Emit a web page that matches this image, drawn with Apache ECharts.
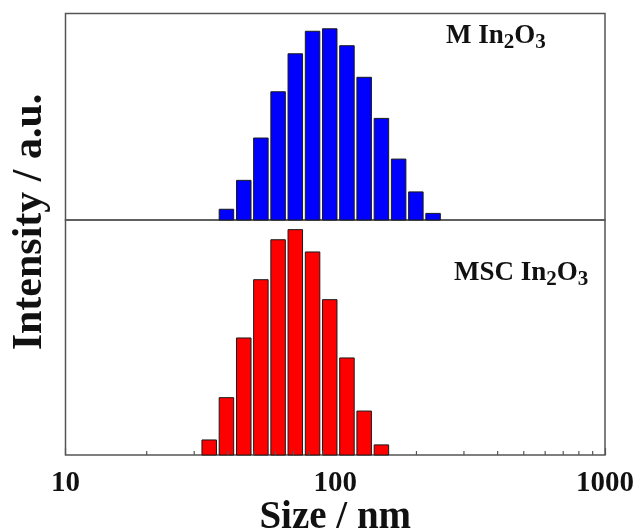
<!DOCTYPE html>
<html>
<head>
<meta charset="utf-8">
<script src="https://cdn.jsdelivr.net/npm/echarts@6/dist/echarts.min.js"></script>
<style>
  html, body { margin: 0; padding: 0; background: #fff; }
  #chart { width: 638px; height: 531px; }
</style>
</head>
<body>
<div id="chart"></div>
<script>
// bin centres (nm)
const sizesM = [39.5, 45.8, 53.0, 61.4, 71.1, 82.4, 95.4, 110.5, 128.0, 148.3, 171.8, 199.0, 230.5];
const intensityM = [5.2, 19.2, 39.7, 62.1, 80.5, 91.4, 92.6, 84.4, 69.1, 49.2, 29.5, 13.6, 3.2];

const sizesMSC = [34.1, 39.5, 45.8, 53.0, 61.4, 71.1, 82.4, 95.4, 110.5, 128.0, 148.3];
const intensityMSC = [6.4, 24.4, 49.8, 74.6, 91.6, 95.9, 86.4, 66.1, 41.3, 18.7, 4.3];

const xTickLabels = [10, 100, 1000];
const minorTicks = [20, 30, 40, 50, 60, 70, 80, 90, 200, 300, 400, 500, 600, 700, 800, 900];

const FONT = '"Liberation Serif", "Times New Roman", serif';
const FRAME = '#555';

// 每根柱子：中心在对数轴上，宽度固定像素
function barRenderer(color) {
  return function (params, api) {
    const top = api.coord([api.value(0), api.value(1)]);
    const base = api.coord([api.value(0), 0]);
    const w = 14.5;
    return {
      type: 'rect',
      shape: { x: top[0] - w / 2, y: top[1], width: w, height: base[1] - top[1] },
      style: { fill: color, stroke: '#1a1a1a', lineWidth: 1 }
    };
  };
}

const chart = echarts.init(document.getElementById('chart'), null, { renderer: 'canvas' });

chart.setOption({
  animation: false,
  grid: [
    { left: 65.5, right: 33, top: 13.5, height: 206.5, outerBoundsMode: 'none', show: true, borderColor: FRAME, borderWidth: 1.5, backgroundColor: 'transparent' },
    { left: 65.5, right: 33, top: 220, height: 235, outerBoundsMode: 'none', show: true, borderColor: FRAME, borderWidth: 1.5, backgroundColor: 'transparent' }
  ],
  xAxis: [
    { gridIndex: 0, type: 'log', logBase: 10, min: 10, max: 1000, show: false },
    {
      gridIndex: 1, type: 'log', logBase: 10, min: 10, max: 1000,
      axisLine: { show: false },
      axisTick: { show: true, inside: true, length: 7, lineStyle: { color: FRAME, width: 1.2 } },
      splitLine: { show: false },
      axisLabel: {
        margin: 14,
        color: '#111',
        fontFamily: FONT, fontWeight: 'bold', fontSize: 29,
        formatter: v => (xTickLabels.includes(Math.round(v)) ? String(Math.round(v)) : '')
      },
      name: 'Size / nm',
      nameLocation: 'middle',
      nameGap: 40,
      nameTextStyle: { color: '#111', fontFamily: FONT, fontWeight: 'bold', fontSize: 39 }
    }
  ],
  yAxis: [
    { gridIndex: 0, type: 'value', min: 0, max: 100, show: false },
    { gridIndex: 1, type: 'value', min: 0, max: 100, show: false }
  ],
  series: [
    {
      type: 'custom', xAxisIndex: 0, yAxisIndex: 0,
      renderItem: barRenderer('#0000ff'),
      data: sizesM.map((s, i) => [s, intensityM[i]])
    },
    {
      type: 'custom', xAxisIndex: 1, yAxisIndex: 1,
      renderItem: barRenderer('#ff0000'),
      data: sizesMSC.map((s, i) => [s, intensityMSC[i]])
    },
    {
      // minor ticks 20..90, 200..900 on the bottom axis
      type: 'custom', xAxisIndex: 1, yAxisIndex: 1, z: 5,
      renderItem: function (params, api) {
        const p = api.coord([api.value(0), 0]);
        return {
          type: 'line',
          shape: { x1: p[0], y1: p[1], x2: p[0], y2: p[1] - 4 },
          style: { stroke: FRAME, lineWidth: 1.2 }
        };
      },
      data: minorTicks.map(v => [v])
    }
  ],
  graphic: [
    {
      type: 'text', x: 30, y: 222, rotation: Math.PI / 2,
      style: {
        text: 'Intensity / a.u.', fill: '#111',
        font: 'bold 42px ' + FONT, textAlign: 'center', textVerticalAlign: 'middle'
      }
    },
    {
      type: 'text', x: 446, y: 36,
      style: {
        text: '{a|M In}{s|2}{a|O}{s|3}',
        textVerticalAlign: 'middle',
        rich: {
          a: { font: 'bold 27px ' + FONT, fill: '#111' },
          s: { font: 'bold 21px ' + FONT, fill: '#111', padding: [14, 0, 0, 0] }
        }
      }
    },
    {
      type: 'text', x: 454, y: 273,
      style: {
        text: '{a|MSC In}{s|2}{a|O}{s|3}',
        textVerticalAlign: 'middle',
        rich: {
          a: { font: 'bold 27px ' + FONT, fill: '#111' },
          s: { font: 'bold 21px ' + FONT, fill: '#111', padding: [14, 0, 0, 0] }
        }
      }
    }
  ]
});
</script>
</body>
</html>
